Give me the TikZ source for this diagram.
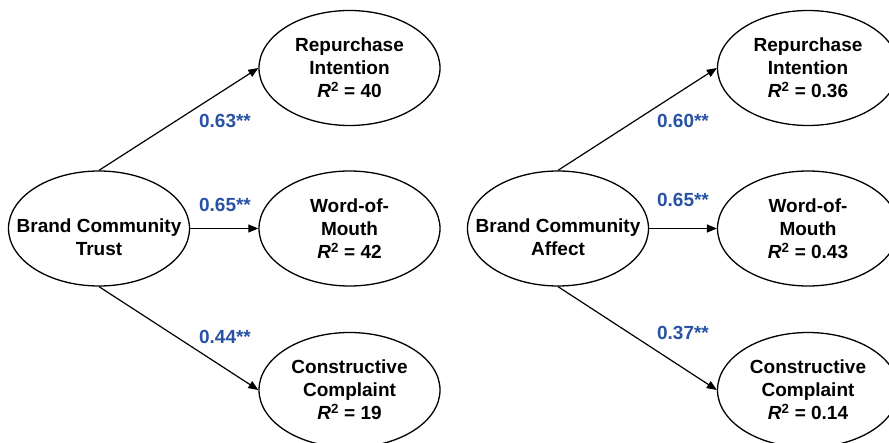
\documentclass[tikz,border=0pt]{standalone}
\usepackage{fontspec}
\setmainfont{Liberation Sans}
\usetikzlibrary{shapes.geometric,arrows.meta}
\definecolor{coefblue}{RGB}{40,82,164}
\tikzset{
  latent/.style={ellipse,draw=black,line width=1.3pt,minimum width=181pt,minimum height=115pt,inner sep=0pt},
  txt/.style={align=center,font=\fontsize{19}{23}\selectfont\bfseries,inner sep=0pt},
  coef/.style={font=\fontsize{19}{22}\selectfont\bfseries,text=coefblue,inner sep=0pt},
  path/.style={line width=1.2pt,-{Triangle[length=10pt,width=8pt]}}
}
\newcommand{\rsq}[1]{\textit{R}\textsuperscript{2} = #1}
\begin{document}
\begin{tikzpicture}[x=1pt,y=-1pt]
\useasboundingbox (0,0) rectangle (889,443);
\clip (0,0) rectangle (889,443);
% left panel
\node[latent] (trust) at (99,228.5) {};
\node[txt] (trustT) at (99,237.5) {Brand Community\\Trust};
\node[latent,txt] (rep1) at (349.5,68) {Repurchase\\Intention\\\rsq{40}};
\node[latent,txt] (wom1) at (349.5,228.5) {Word-of-\\Mouth\\\rsq{42}};
\node[latent,txt] (cc1) at (349.5,390) {Constructive\\Complaint\\\rsq{19}};
\draw[path] (trust.north) -- (rep1.west);
\draw[path] (trust.east) -- (wom1.west);
\draw[path] (trust.south) -- (cc1.west);
\node[coef] (c11) at (225,121) {0.63**};
\node[coef] (c12) at (225,205) {0.65**};
\node[coef] (c13) at (225,337) {0.44**};
% right panel
\node[latent] (affect) at (558,228.5) {};
\node[txt] (affectT) at (558,237.5) {Brand Community\\Affect};
\node[latent,txt] (rep2) at (808,68) {Repurchase\\Intention\\\rsq{0.36}};
\node[latent,txt] (wom2) at (808,228.5) {Word-of-\\Mouth\\\rsq{0.43}};
\node[latent,txt] (cc2) at (808,390) {Constructive\\Complaint\\\rsq{0.14}};
\draw[path] (affect.north) -- (rep2.west);
\draw[path] (affect.east) -- (wom2.west);
\draw[path] (affect.south) -- (cc2.west);
\node[coef] (c21) at (683,121) {0.60**};
\node[coef] (c22) at (683,200) {0.65**};
\node[coef] (c23) at (683,333) {0.37**};
\end{tikzpicture}
\end{document}
